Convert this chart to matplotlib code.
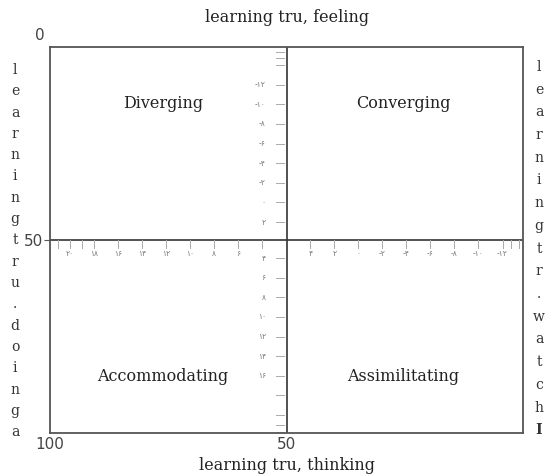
import matplotlib
matplotlib.use("Agg")
import matplotlib.pyplot as plt

# quadrant names
quadrants = ["Diverging", "Converging", "Accommodating", "Assimilitating"]

# outer axis titles
top_title = "learning tru, feeling"
bottom_title = "learning tru, thinking"
left_title = "learningtru.doinga"
right_title = "learningtr.watchI"

# inner scales (persian digits), values
h_left_vals = [20, 18, 16, 14, 12, 10, 8, 6, 4]
h_left_labels = ["۲۰", "۱۸", "۱۶", "۱۴", "۱۲", "۱۰", "۸", "۶", ""]
h_left_minor = [21, 19]
h_right_vals = [4, 2, 0, -2, -4, -6, -8, -10, -12]
h_right_labels = ["۴", "۲", "۰", "-۲", "-۴", "-۶", "-۸", "-۱۰", "-۱۲"]
h_right_minor = [-12.7, -13.4]
v_top_vals = [-12, -10, -8, -6, -4, -2, 0, 2]
v_top_labels = ["-۱۲", "-۱۰", "-۸", "-۶", "-۴", "-۲", "۰", "۲"]
v_top_minor = [-15.3, -14.7, -14.0]
v_bot_vals = [4, 6, 8, 10, 12, 14, 16]
v_bot_labels = ["۴", "۶", "۸", "۱۰", "۱۲", "۱۴", "۱۶"]
v_bot_minor = [18, 20, 21, 21.7]

# where each half-scale sits on the 0-100 outer axes
unit = 2.54
def h_left(v): return 55.2 + unit * (v - 4)
def h_right(v): return 45.0 + unit * (v - 4)
def v_top(v): return 45.4 + unit * (v - 2)
def v_bot(v): return 54.7 + unit * (v - 4)

serif = "DejaVu Serif"
tick_col = "#aaaaaa"
lab_col = "#7a7a7a"

fig = plt.figure(figsize=(5.47, 4.75), dpi=100)
ax = fig.add_axes([0.0914, 0.0884, 0.865, 0.8133])
ax.set_xlim(100, 0)
ax.set_ylim(100, 0)
for s in ax.spines.values():
    s.set_color("#555555")
    s.set_linewidth(1.3)

ax.axvline(50, color="#333333", lw=1.2)
ax.axhline(50, color="#333333", lw=1.2)

# outer ticks
ax.set_xticks([100, 50])
ax.set_xticklabels(["100", "50"], fontsize=11, color="#444444")
ax.tick_params(axis="x", length=0, pad=3)
ax.set_yticks([50])
ax.set_yticklabels(["50"], fontsize=11, color="#444444")
ax.tick_params(axis="y", length=4, pad=1, color="#555555")
ax.text(102.1, -3.0, "0", fontsize=11, color="#444444", ha="center", va="center")

# quadrant labels
pos = [(76.1, 14.6), (25.4, 14.6), (76.1, 85.5), (25.4, 85.5)]
for (x, y), name in zip(pos, quadrants):
    ax.text(x, y, name, family=serif, fontsize=11.5, color="#222222",
            ha="center", va="center")

# horizontal inner scale
for vals, labels, f in [(h_left_vals, h_left_labels, h_left),
                        (h_right_vals, h_right_labels, h_right)]:
    for v, lab in zip(vals, labels):
        ax.plot([f(v), f(v)], [50, 52.2], color=tick_col, lw=0.7)
        ax.text(f(v), 53.6, lab, family="DejaVu Sans", fontsize=5.5,
                color=lab_col, ha="center", va="center")
for v in h_left_minor:
    ax.plot([h_left(v), h_left(v)], [50, 52.2], color=tick_col, lw=0.7)
for v in h_right_minor:
    ax.plot([h_right(v), h_right(v)], [50, 52.2], color=tick_col, lw=0.7)

# vertical inner scale
for vals, labels, f in [(v_top_vals, v_top_labels, v_top),
                        (v_bot_vals, v_bot_labels, v_bot)]:
    for v, lab in zip(vals, labels):
        ax.plot([52.2, 50.6], [f(v), f(v)], color=tick_col, lw=0.7)
        ax.text(54.4, f(v), lab, family="DejaVu Sans", fontsize=5.5,
                color=lab_col, ha="right", va="center")
for v in v_top_minor:
    ax.plot([52.2, 50.6], [v_top(v), v_top(v)], color=tick_col, lw=0.7)
for v in v_bot_minor:
    ax.plot([52.2, 50.6], [v_bot(v), v_bot(v)], color=tick_col, lw=0.7)

# titles
fig.text(287 / 547, 1 - 17 / 475, top_title, family=serif, fontsize=11.5,
         color="#222222", ha="center", va="center")
fig.text(287 / 547, 1 - 465 / 475, bottom_title, family=serif, fontsize=11.5,
         color="#222222", ha="center", va="center")

step_l = 21.3
for i, ch in enumerate(left_title):
    fig.text(15 / 547, 1 - (70 + i * step_l) / 475, ch, family=serif,
             fontsize=10, color="#333333", ha="center", va="center")
step_r = 22.7
for i, ch in enumerate(right_title):
    fig.text(539 / 547, 1 - (67 + i * step_r) / 475, ch, family=serif,
             fontsize=10, color="#333333", ha="center", va="center",
             weight="bold" if ch == "I" else "normal")

fig.savefig("out.png", dpi=100)
